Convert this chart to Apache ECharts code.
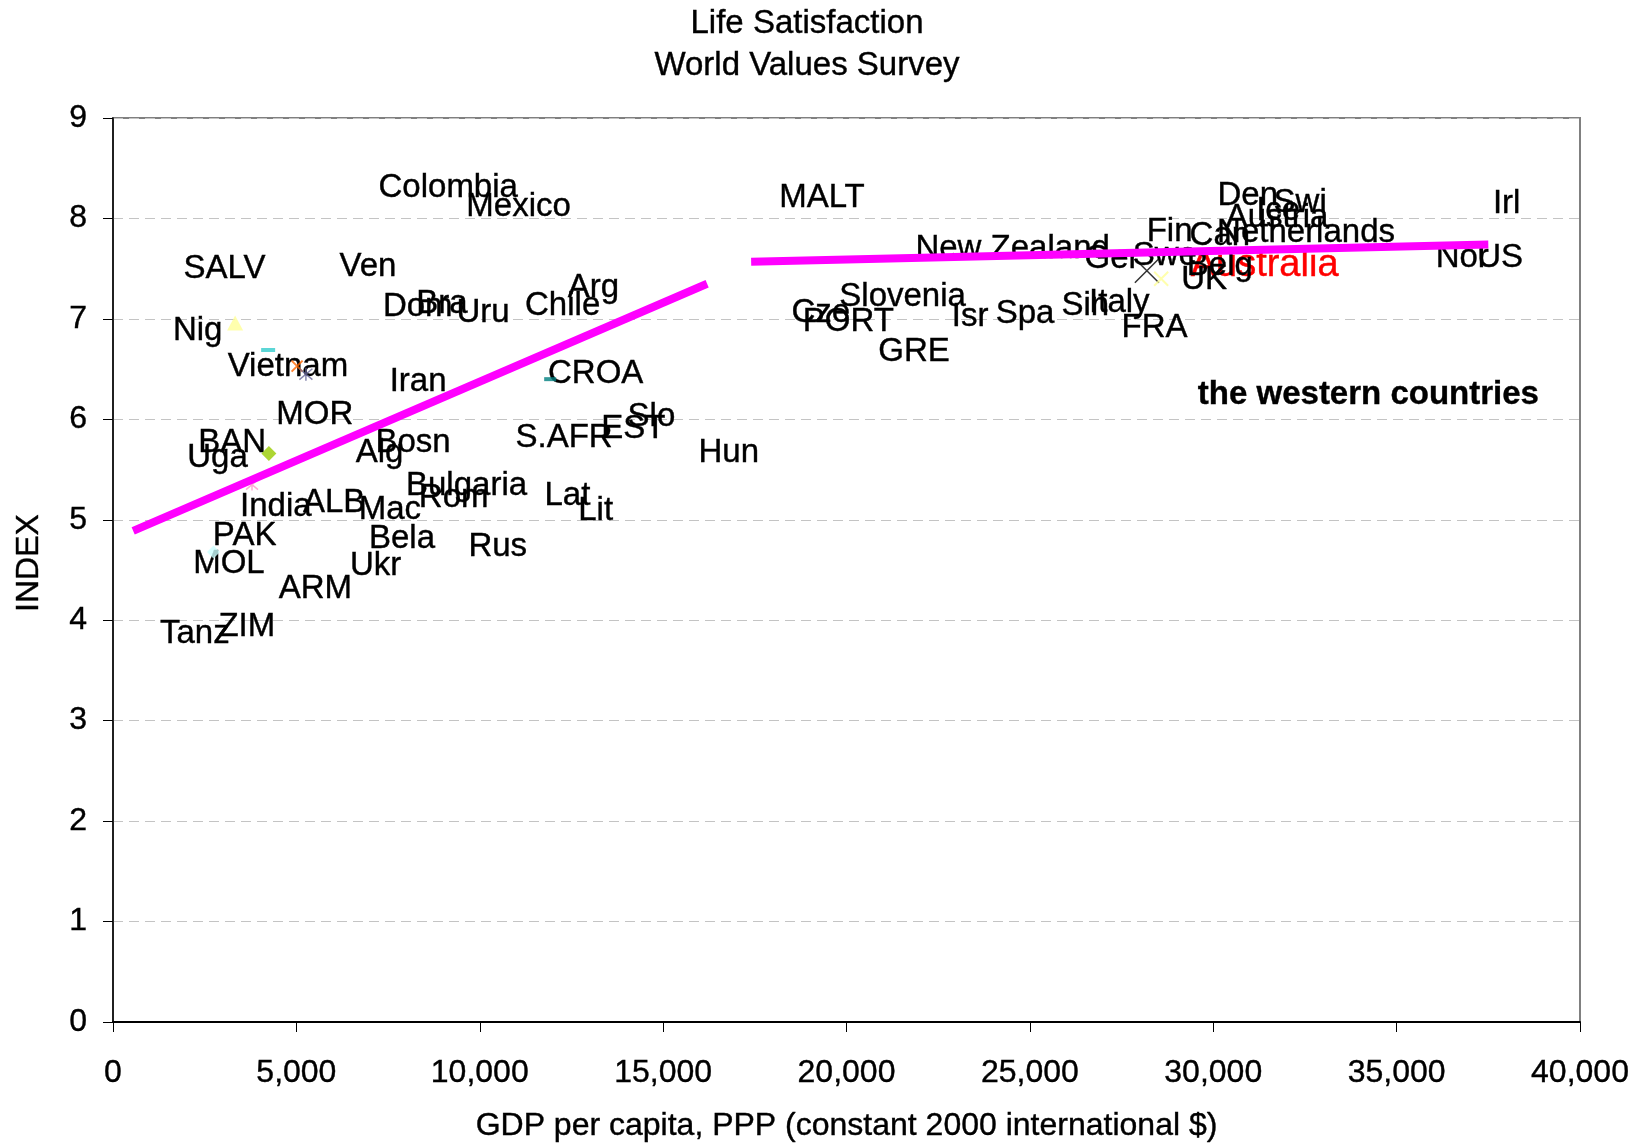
<!DOCTYPE html>
<html>
<head>
<meta charset="utf-8">
<title>Life Satisfaction – World Values Survey</title>
<script src="https://cdn.jsdelivr.net/npm/echarts@6/dist/echarts.min.js"></script>
<style>
  html, body { margin: 0; padding: 0; background: #ffffff; }
  #chart { width: 1642px; height: 1144px; }
</style>
</head>
<body>
<div id="chart"></div>
<script>
// Country labels: GDP per capita (PPP, constant 2000 international $) and life-satisfaction index
const countryNames = ['Colombia','Mexico','SALV','Ven','Dom','Bra','Uru','Chile','Arg','Nig',
  'Vietnam','Iran','CROA','MOR','BAN','Uga','Alg','Bosn','S.AFR','EST','Slo','Hun',
  'Bulgaria','Rom','Lat','Lit','India','ALB','Mac','PAK','MOL','Bela','Rus','Ukr','ARM',
  'Tanz','ZIM','MALT','New Zealand','Cze','PORT','Slovenia','GRE','Isr','Spa','Sin',
  'Italy','FRA','Ger','Australia','Swe','Fin','Can','Belg','UK','Den','Swi','Austria','Ice',
  'Netherlands','Irl','Nor','US'];
const countryGdp = [9140,11060,3040,6950,8310,8970,10090,12260,13100,2310,
  4770,8320,13160,5500,3250,2850,7270,8180,12300,14190,14680,16790,
  9640,9290,12390,13160,4440,6030,7550,3590,3160,7880,10490,7160,5520,
  2230,3650,19330,24530,19300,20050,21530,21840,23370,24870,26510,
  27440,28400,27240,31400,28680,28810,30180,30180,29750,30940,32370,31740,31770,
  32530,38000,36790,37820];
const countryIndex = [8.30,8.11,7.50,7.52,7.12,7.15,7.06,7.13,7.31,6.88,
  6.52,6.37,6.45,6.04,5.77,5.62,5.67,5.77,5.82,5.90,6.02,5.67,
  5.34,5.22,5.24,5.09,5.13,5.17,5.10,4.84,4.56,4.81,4.73,4.54,4.31,
  3.86,3.93,8.20,7.70,7.06,6.97,7.22,6.67,7.02,7.05,7.13,
  7.16,6.91,7.60,7.53,7.63,7.87,7.83,7.53,7.39,8.22,8.15,8.01,8.08,
  7.86,8.14,7.61,7.61];
const highlighted = 'Australia';

// Visible point markers
const markerGdp   = [3330, 4230, 5020, 5260, 4250, 3790, 2740, 11920, 28190, 28580];
const markerIndex = [6.96, 6.69, 6.53, 6.45, 5.66, 5.35, 4.68, 6.40, 7.48, 7.40];

// Linear trends: developing / transition countries and the western countries
const trendLowX  = [550, 16200];
const trendLowY  = [4.89, 7.35];
const trendHighX = [17400, 37500];
const trendHighY = [7.57, 7.74];

// Axis ticks
const xTicks = { min: 0, max: 40000, step: 5000 };
const yTicks = { min: 0, max: 9, step: 1 };

const titleLines = ['Life Satisfaction', 'World Values Survey'];
const groupNote = { text: 'the western countries', gdp: 34230, index: 6.24 };

// ---- styling ----
const FONT = '"Liberation Sans", Arial, Helvetica, sans-serif';
const INK = '#000000';
const X_PATH = 'path://M0 0L10 10M10 0L0 10';
const STAR_PATH = 'path://M0 0L10 10M10 0L0 10M5 -1L5 11';
const markerStyles = [
  { symbol: 'triangle', size: [16, 15], fill: '#FFFF99' },
  { symbol: 'rect', size: [14, 4], fill: '#33CCCC' },
  { symbol: X_PATH, size: 11, stroke: '#FF6600', lw: 2 },
  { symbol: STAR_PATH, size: 13, stroke: '#666699', lw: 1.5 },
  { symbol: 'diamond', size: [15, 15], fill: '#99CC00' },
  { symbol: STAR_PATH, size: 12, stroke: '#FF99CC', lw: 1.5 },
  { symbol: 'diamond', size: [13, 13], fill: '#CCFFFF' },
  { symbol: 'rect', size: [12, 4], fill: '#008080' },
  { symbol: X_PATH, size: 24, stroke: '#000000', lw: 1.5 },
  { symbol: X_PATH, size: 14, stroke: '#FFFF99', lw: 2 }
];

// solid black text with a hairline outline for a slightly heavier stroke
const inkText = (size, extra) => Object.assign({
  color: INK, fontSize: size, fontFamily: FONT,
  textBorderColor: INK, textBorderWidth: 0.4, opacity: 1
}, extra || {});

const countryData = countryNames.map((name, i) => {
  const item = { name: name, value: [countryGdp[i], countryIndex[i]] };
  if (name === highlighted) {
    item.label = { color: '#FF0000', textBorderColor: '#FF0000', fontSize: 38 };
  }
  return item;
});

const markerData = markerGdp.map((g, i) => {
  const s = markerStyles[i];
  return {
    value: [g, markerIndex[i]],
    symbol: s.symbol,
    symbolSize: s.size,
    itemStyle: s.stroke
      ? { color: s.stroke, borderColor: s.stroke, borderWidth: s.lw }
      : { color: s.fill, borderWidth: 0 }
  };
});

const chart = echarts.init(document.getElementById('chart'), null, { renderer: 'canvas' });

const option = {
  animation: false,
  backgroundColor: '#ffffff',
  textStyle: { fontFamily: FONT, color: INK },
  graphic: titleLines.map((t, i) => ({
    type: 'text',
    x: 807,
    y: 24 + i * 42,
    style: {
      text: t,
      fill: INK,
      stroke: INK,
      lineWidth: 0.4,
      font: '33px ' + FONT,
      align: 'center', textAlign: 'center',
      verticalAlign: 'middle', textVerticalAlign: 'middle'
    }
  })),
  grid: {
    left: 113, top: 118, width: 1467, height: 904,
    show: true, borderColor: '#808080', borderWidth: 2,
    backgroundColor: 'transparent',
    containLabel: false, outerBoundsMode: 'none'
  },
  xAxis: {
    type: 'value',
    min: xTicks.min, max: xTicks.max, interval: xTicks.step,
    name: 'GDP per capita, PPP (constant 2000 international $)',
    nameLocation: 'middle', nameGap: 88,
    nameTextStyle: inkText(32),
    axisLine: { show: true, onZero: false, lineStyle: { color: '#000', width: 2 } },
    axisTick: { show: true, inside: false, length: 10, lineStyle: { color: '#000', width: 1 } },
    axisLabel: Object.assign(inkText(32), {
      show: true, margin: 35,
      showMinLabel: true, showMaxLabel: true,
      formatter: v => v.toLocaleString('en-US')
    }),
    splitLine: { show: false }
  },
  yAxis: {
    type: 'value',
    min: yTicks.min, max: yTicks.max, interval: yTicks.step,
    name: 'INDEX',
    nameLocation: 'middle', nameGap: 68, nameRotate: 90,
    nameTextStyle: inkText(32, { padding: [0, 0, 0, 14] }),
    axisLine: { show: true, onZero: false, lineStyle: { color: '#000', width: 1.5 } },
    axisTick: { show: true, inside: false, length: 10, lineStyle: { color: '#000', width: 1 } },
    axisLabel: Object.assign(inkText(32), { show: true, margin: 26 }),
    splitLine: { show: true, lineStyle: { color: '#c4c4c4', width: 1, type: [10, 6] } }
  },
  series: [
    {
      name: 'countries',
      type: 'scatter',
      z: 2,
      symbolSize: 1,
      itemStyle: { color: 'rgba(255,255,255,0)' },
      label: Object.assign(inkText(33), { show: true, position: 'inside', formatter: '{b}' }),
      emphasis: { disabled: true },
      data: countryData
    },
    {
      name: 'markers',
      type: 'scatter',
      z: 3,
      emphasis: { disabled: true },
      data: markerData
    },
    {
      name: 'trend low',
      type: 'line',
      z: 4,
      showSymbol: false, symbol: 'none',
      lineStyle: { color: '#FF00FF', width: 8, cap: 'butt' },
      emphasis: { disabled: true },
      data: trendLowX.map((x, i) => [x, trendLowY[i]])
    },
    {
      name: 'trend high',
      type: 'line',
      z: 4,
      showSymbol: false, symbol: 'none',
      lineStyle: { color: '#FF00FF', width: 8, cap: 'butt' },
      emphasis: { disabled: true },
      data: trendHighX.map((x, i) => [x, trendHighY[i]])
    },
    {
      name: 'note',
      type: 'scatter',
      z: 5,
      symbolSize: 1,
      itemStyle: { color: 'rgba(255,255,255,0)' },
      label: Object.assign(inkText(33, { fontWeight: 'bold' }), {
        show: true, position: 'inside', formatter: groupNote.text
      }),
      emphasis: { disabled: true },
      data: [[groupNote.gdp, groupNote.index]]
    }
  ]
};

chart.setOption(option);
</script>
</body>
</html>
